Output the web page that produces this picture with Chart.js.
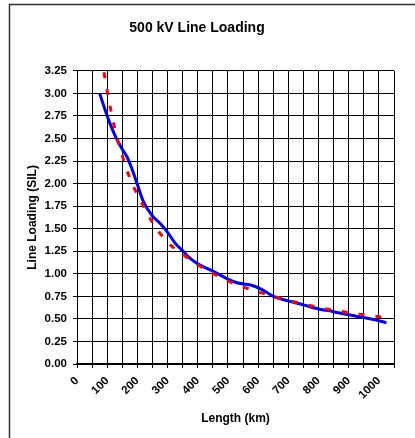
<!DOCTYPE html>
<html>
<head>
<meta charset="utf-8">
<script src="https://cdn.jsdelivr.net/npm/chart.js@4"></script>
<style>
html,body{margin:0;padding:0;background:#fff;}
#wrap{width:415px;height:438px;position:relative;}
</style>
</head>
<body>
<div id="wrap"><canvas id="c" width="415" height="438"></canvas></div>
<script>
// Data
const titleText = "500 kV Line Loading";
const xTitle = "Length (km)";
const yTitle = "Line Loading (SIL)";

const redLengths = [80, 100, 125, 150, 175, 200, 250, 300, 350, 400, 450, 500, 550, 600, 650, 700, 750, 800, 850, 900, 950, 1000, 1020];
const redLoading = [3.42, 3.03, 2.61, 2.31, 2.06, 1.88, 1.57, 1.35, 1.215, 1.10, 1.005, 0.92, 0.855, 0.80, 0.75, 0.705, 0.665, 0.628, 0.597, 0.57, 0.546, 0.523, 0.515];

const blueLengths = [75, 100, 125, 150, 165, 180, 200, 220, 250, 275, 300, 325, 350, 375, 400, 450, 500, 530, 575, 610, 650, 700, 750, 800, 850, 900, 950, 1000, 1025];
const blueLoading = [3.00, 2.75, 2.54, 2.38, 2.30, 2.18, 1.99, 1.80, 1.64, 1.56, 1.46, 1.34, 1.255, 1.17, 1.11, 1.03, 0.94, 0.90, 0.875, 0.83, 0.75, 0.70, 0.655, 0.61, 0.58, 0.545, 0.515, 0.48, 0.458];

const xMin = 0, xMax = 1050, xStep = 50, xLabelEvery = 100;
const yMin = 0, yMax = 3.25, yStep = 0.25;

const toPts = (xs, ys) => xs.map((x, i) => ({x: x, y: ys[i]}));

const framePlugin = {
  id: 'frame',
  beforeDraw(chart) {
    const ctx = chart.ctx;
    ctx.save();
    ctx.fillStyle = '#fff';
    ctx.fillRect(0, 0, chart.width, chart.height);
    ctx.strokeStyle = '#333';
    ctx.lineWidth = 1.5;
    ctx.strokeRect(9.5, 4.5, 600, 600);
    ctx.restore();
  }
};

const FONT = "'Liberation Sans', Arial, sans-serif";

new Chart(document.getElementById('c'), {
  type: 'scatter',
  data: {
    datasets: [
      {
        label: 'red',
        data: toPts(redLengths, redLoading),
        showLine: true,
        borderColor: '#FF0000',
        borderWidth: 3,
        borderDash: [6, 11],
        borderCapStyle: 'butt',
        pointRadius: 0,
        cubicInterpolationMode: 'monotone',
        clip: 0,
        fill: false
      },
      {
        label: 'blue',
        data: toPts(blueLengths, blueLoading),
        showLine: true,
        borderColor: '#0000FF',
        borderWidth: 3,
        pointRadius: 0,
        cubicInterpolationMode: 'monotone',
        clip: 0,
        fill: false
      }
    ]
  },
  options: {
    responsive: false,
    animation: false,
    devicePixelRatio: 1,
    layout: {padding: {left: 0, right: 21, top: 0, bottom: 0}},
    plugins: {
      legend: {display: false},
      tooltip: {enabled: false},
      title: {
        display: true,
        text: titleText,
        color: '#000',
        font: {family: FONT, size: 14, weight: 'bold'},
        padding: {top: 20, bottom: 34}
      }
    },
    scales: {
      x: {
        type: 'linear',
        min: xMin, max: xMax,
        afterFit(scale) { scale.height = 74; },
        ticks: {
          stepSize: xStep,
          autoSkip: false,
          maxRotation: 45, minRotation: 45,
          padding: 6,
          color: '#000',
          font: {family: FONT, size: 11.5, weight: 'bold'},
          callback: (v) => (v % xLabelEvery === 0 ? String(v) : '')
        },
        grid: {color: '#000', lineWidth: 1, drawTicks: true, tickLength: 4},
        border: {color: '#000', width: 1.5},
        title: {
          display: true, text: xTitle, color: '#000',
          font: {family: FONT, size: 12, weight: 'bold'},
          padding: {top: 0, bottom: 12}
        }
      },
      y: {
        type: 'linear',
        min: yMin, max: yMax,
        afterFit(scale) { scale.width = 77; },
        ticks: {
          stepSize: yStep,
          padding: 6,
          color: '#000',
          font: {family: FONT, size: 11.5, weight: 'bold'},
          callback: (v) => Number(v).toFixed(2)
        },
        grid: {color: '#000', lineWidth: 1, drawTicks: true, tickLength: 4},
        border: {color: '#000', width: 1},
        title: {
          display: true, text: yTitle, color: '#000',
          font: {family: FONT, size: 12, weight: 'bold'},
          padding: {top: 25, bottom: 0}
        }
      }
    }
  },
  plugins: [framePlugin]
});
</script>
</body>
</html>
